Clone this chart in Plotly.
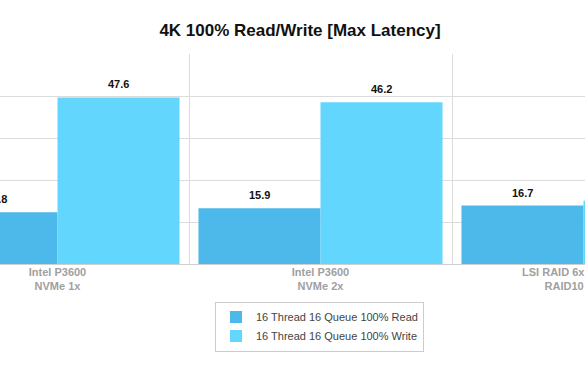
import plotly.graph_objects as go

categories = ["Intel P3600<br>NVMe 1x", "Intel P3600<br>NVMe 2x", "LSI RAID 6x S3700 SSD<br>RAID10 (SATA)"]
read_vals = [14.8, 15.9, 16.7]
write_vals = [47.6, 46.2, 18.1]
series_names = ["16 Thread 16 Queue 100% Read", "16 Thread 16 Queue 100% Write"]
colors = ["#4db8ea", "#63d6fe"]
y_ticks = [0, 12, 24, 36, 48, 60]

FONT = "Liberation Sans, Arial, Helvetica, sans-serif"

fig = go.Figure()
for name, vals, col in zip(series_names, [read_vals, write_vals], colors):
    fig.add_trace(go.Bar(
        x=categories, y=vals, name=name,
        marker=dict(color=col, line=dict(width=0)),
    ))

# value labels
W = 585
cat_px = 263.0
bar_px = cat_px * (1 - 0.072) / 2
for vals, sign in [(read_vals, -1), (write_vals, 1)]:
    for c, v in zip(categories, vals):
        fig.add_annotation(
            x=c, y=v, text="<b>%.1f</b>" % v, showarrow=False,
            xshift=sign * bar_px / 2, yanchor="bottom", yshift=5,
            font=dict(family=FONT, size=11, color="#111111"),
        )

lo = -57.5 / cat_px
hi = (W - 57.5) / cat_px

fig.update_layout(
    width=585, height=380,
    margin=dict(l=0, r=0, t=54, b=116, autoexpand=False),
    paper_bgcolor="white", plot_bgcolor="white",
    barmode="group", bargap=0.072, bargroupgap=0,
    title=dict(text="<b>4K 100% Read/Write [Max Latency]</b>", x=300 / 585, xanchor="center",
               y=1 - 30 / 380, yanchor="middle", yref="container",
               font=dict(family=FONT, size=17, color="#111111")),
    xaxis=dict(range=[lo, hi], tickson="boundaries", showgrid=True, gridcolor="#dcdcdc",
               gridwidth=1, ticks="", showline=False, zeroline=False, automargin=False,
               tickfont=dict(family=FONT, size=11, color="#a0a0a0")),
    yaxis=dict(range=[0, 60], tickvals=y_ticks, showticklabels=False, showgrid=True,
               gridcolor="#dcdcdc", gridwidth=1, zeroline=True, zerolinecolor="#cfcfcf",
               zerolinewidth=1, showline=False, automargin=False),
    legend=dict(x=215 / 585, xanchor="left", y=(264 - 301.5) / 210, yanchor="top",
                bordercolor="#cccccc", borderwidth=1, bgcolor="white",
                font=dict(family=FONT, size=11, color="#444444"), traceorder="normal",
                tracegroupgap=0),
    showlegend=True,
)
fig.update_xaxes(tickprefix="<b>", ticksuffix="</b>")

fig.write_html("out.html")
